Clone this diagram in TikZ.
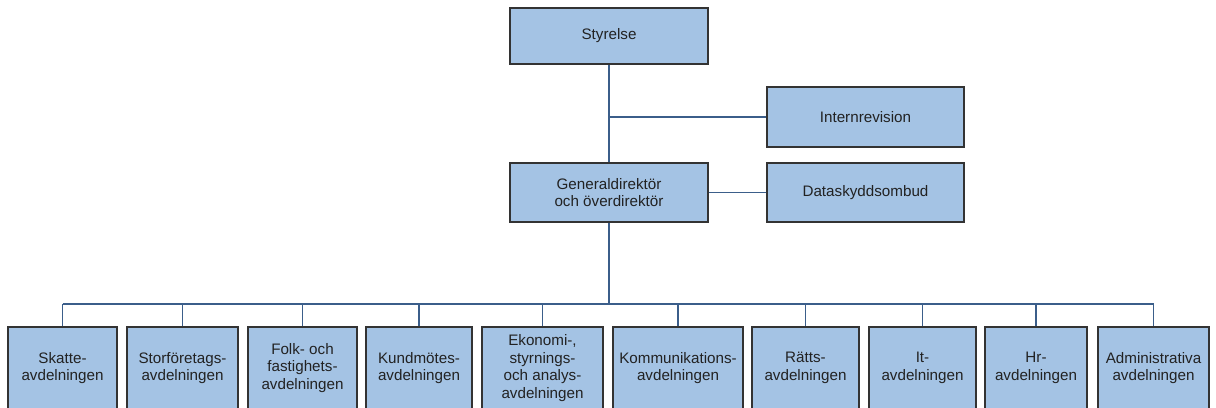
\documentclass[tikz,border=0pt]{standalone}
\usepackage{fontspec}
\setmainfont{Liberation Sans}
\definecolor{boxfill}{HTML}{A4C3E4}
\definecolor{boxline}{HTML}{333333}
\definecolor{conn}{HTML}{3B5E8A}
\definecolor{txt}{HTML}{222222}
\begin{document}
\begin{tikzpicture}[x=0.75pt,y=-0.75pt,
  orgbox/.style={draw=boxline, fill=boxfill, line width=1.4pt, inner sep=0pt,
    align=center, text=txt, font=\fontsize{11.4pt}{13.1pt}\selectfont},
  topbox/.style={orgbox, minimum width=148.5pt},
  depbox/.style={orgbox, minimum height=61.5pt, minimum width=#1},
  link/.style={draw=conn, line width=1.4pt}]
\clip (0,0) rectangle (1216,407);
\fill[white] (0,0) rectangle (1216,407);
% top level
\node[topbox, minimum height=42pt] (sty) at (609,36) {Styrelse};
\node[topbox, minimum width=147.75pt, minimum height=45pt] (ir) at (865.5,117) {Internrevision};
\node[topbox, minimum height=44.25pt] (gd) at (609,192.5) {Generaldirektör\\och överdirektör};
\node[topbox, minimum width=147.75pt, minimum height=44.25pt] (ds) at (865.5,192.5) {Dataskyddsombud};
% departments
\node[depbox=81.75pt] (b1) at (62.5,368) {Skatte-\\avdelningen};
\node[depbox=83.25pt] (b2) at (182.5,368) {Storföretags-\\avdelningen};
\node[depbox=81.75pt] (b3) at (302.5,368) {Folk- och\\fastighets-\\avdelningen};
\node[depbox=79.5pt] (b4) at (419,368) {Kundmötes-\\avdelningen};
\node[depbox=90.75pt] (b5) at (542.5,368) {Ekonomi-,\\styrnings-\\och analys-\\avdelningen};
\node[depbox=97.5pt] (b6) at (678,368) {Kommunikations-\\avdelningen};
\node[depbox=80.25pt] (b7) at (805.5,368) {Rätts-\\avdelningen};
\node[depbox=80.25pt] (b8) at (922.5,368) {It-\\avdelningen};
\node[depbox=76.5pt] (b9) at (1036,368) {Hr-\\avdelningen};
\node[depbox=83.25pt] (b10) at (1153.5,368) {Administrativa\\avdelningen};
% connectors
\coordinate (bus) at (0,304);
\draw[link] (sty.south) -- (gd.north);
\draw[link] (ir.west) -- (ir.west -| sty.south);
\draw[link] (gd.east) -- (ds.west);
\draw[link] (gd.south) -- (gd.south |- bus);
\draw[link] (b1.north |- bus) -- (b10.north |- bus);
\foreach \b in {b1,b2,b3,b4,b5,b6,b7,b8,b9,b10}{
  \draw[link] (\b.north) -- (\b.north |- bus);
}
\end{tikzpicture}
\end{document}
